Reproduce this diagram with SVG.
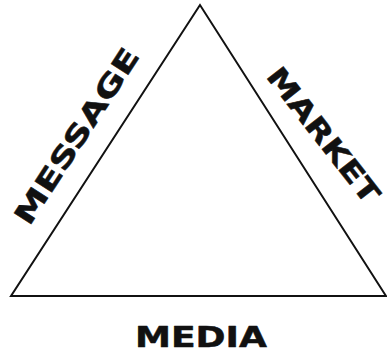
<svg xmlns="http://www.w3.org/2000/svg" width="387" height="351" viewBox="0 0 387 351">
  <style>
    .lbl { font-family: "DejaVu Sans", "Liberation Sans", sans-serif; font-weight: bold; font-size: 28px; fill: #111; stroke: #111; stroke-width: 0.5; stroke-linejoin: round; text-anchor: middle; }
    .edge { fill: none; stroke: #111; stroke-width: 2; stroke-linejoin: miter; }
  </style>
  <rect width="387" height="351" fill="#fff"/>
  <g id="connectors">
    <polygon class="edge" points="200,5 11,296 386,296"/>
  </g>
  <g id="message">
    <text class="lbl" transform="translate(76.5,136) rotate(-57)" x="0" y="10" textLength="204" lengthAdjust="spacingAndGlyphs">MESSAGE</text>
  </g>
  <g id="market">
    <text class="lbl" transform="translate(323.5,135) rotate(52)" x="0" y="10" textLength="164" lengthAdjust="spacingAndGlyphs">MARKET</text>
  </g>
  <g id="media">
    <text class="lbl" x="201" y="346.5" textLength="132" lengthAdjust="spacingAndGlyphs">MEDIA</text>
  </g>
</svg>
